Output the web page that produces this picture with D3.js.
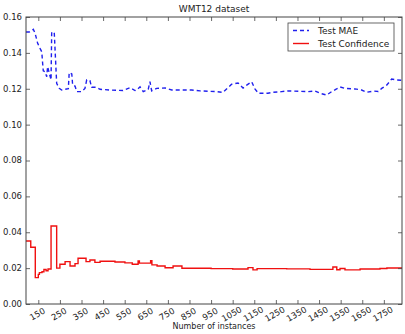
<!DOCTYPE html>
<html>
<head>
<meta charset="utf-8">
<script src="https://cdn.jsdelivr.net/npm/d3@7"></script>
<style>
  body { margin: 0; background: #fff; }
  svg text { font-family: "DejaVu Sans", sans-serif; fill: #222; }
</style>
</head>
<body>
<svg id="svg" width="405" height="334"></svg>
<script>
// --- Data ---
const xTicks = [150, 250, 350, 450, 550, 650, 750, 850, 950, 1050, 1150, 1250, 1350, 1450, 1550, 1650, 1750];
const yTicks = [0, 0.02, 0.04, 0.06, 0.08, 0.10, 0.12, 0.14, 0.16];

const maeX = [93, 108, 127, 135, 147, 158, 166, 170, 173, 181, 189, 193, 201, 209, 212, 224, 235, 247, 258, 274, 289,
    293, 305, 309, 320, 328, 351, 366, 374, 389, 397, 420, 436, 482, 542, 575, 598, 606, 621, 636, 659, 667, 675, 698,
    737, 768, 860, 899, 976, 1005, 1030, 1045, 1075, 1098, 1115, 1138, 1153, 1169, 1213, 1237, 1277, 1306, 1399, 1431,
    1454, 1485, 1508, 1531, 1547, 1570, 1616, 1647, 1670, 1701, 1724, 1740, 1763, 1786, 1809, 1834];
const maeY = [0.1516, 0.1516, 0.1531, 0.151, 0.1453, 0.1425, 0.1406, 0.1342, 0.130, 0.1295, 0.1267, 0.1323, 0.1286,
    0.1249, 0.1518, 0.1509, 0.123, 0.1202, 0.1193, 0.1197, 0.120, 0.129, 0.1282, 0.122, 0.1215, 0.1184, 0.1184, 0.1202,
    0.1249, 0.1245, 0.1208, 0.1208, 0.1197, 0.1193, 0.119, 0.1206, 0.119, 0.1193, 0.1211, 0.1184, 0.1197, 0.1239,
    0.1188, 0.1202, 0.1204, 0.1193, 0.1193, 0.1188, 0.1184, 0.118, 0.1208, 0.1225, 0.1232, 0.1204, 0.122, 0.1239,
    0.1199, 0.1175, 0.1175, 0.118, 0.1184, 0.1188, 0.1184, 0.1188, 0.1175, 0.1165, 0.1184, 0.1199, 0.121, 0.1202,
    0.1199, 0.1193, 0.118, 0.1187, 0.1185, 0.1202, 0.122, 0.1254, 0.1249, 0.1247];

const confX = [93, 115, 136, 150, 155, 167, 176, 186, 195, 209, 235, 250, 274, 297, 320, 334, 371, 389, 412, 436, 505,
    551, 585, 612, 618, 670, 676, 700, 737, 774, 815, 950, 1050, 1121, 1144, 1163, 1300, 1408, 1514, 1532, 1547, 1570,
    1640, 1732, 1764, 1834];
const confY = [0.0351, 0.0316, 0.0147, 0.0165, 0.0175, 0.018, 0.0192, 0.0185, 0.0195, 0.0435, 0.0200, 0.0222, 0.0236,
    0.0212, 0.0225, 0.0255, 0.0236, 0.0245, 0.0232, 0.0238, 0.0234, 0.0229, 0.0222, 0.0240, 0.0228, 0.0242, 0.0218,
    0.0212, 0.0202, 0.0212, 0.0199, 0.0197, 0.0195, 0.0203, 0.0190, 0.0197, 0.0196, 0.0193, 0.0206, 0.0191, 0.0198,
    0.0190, 0.0195, 0.0198, 0.0201, 0.0201];

const seriesNames = ['Test MAE', 'Test Confidence'];

// --- Layout ---
const svg = d3.select('#svg');
const m = { left: 26, top: 17, right: 402, bottom: 304 };

const x = d3.scaleLinear().domain([93, 1834]).range([m.left, m.right]);
const y = d3.scaleLinear().domain([0, 0.16]).range([m.bottom, m.top]);

// --- Lines ---
const mae  = maeX.map((v, i) => [v, maeY[i]]);
const conf = confX.map((v, i) => [v, confY[i]]);

svg.append('clipPath').attr('id', 'clip')
    .append('rect')
    .attr('x', m.left).attr('y', m.top)
    .attr('width', m.right - m.left).attr('height', m.bottom - m.top);

const plot = svg.append('g').attr('clip-path', 'url(#clip)');

plot.append('path')
    .datum(mae)
    .attr('fill', 'none')
    .attr('stroke', '#2020ee')
    .attr('stroke-width', 1.4)
    .attr('stroke-dasharray', '4,3')
    .attr('d', d3.line().x(d => x(d[0])).y(d => y(d[1])));

plot.append('path')
    .datum(conf)
    .attr('fill', 'none')
    .attr('stroke', '#f01010')
    .attr('stroke-width', 1.4)
    .attr('d', d3.line().curve(d3.curveStepAfter).x(d => x(d[0])).y(d => y(d[1])));

// --- Axes (ticks inside, on all four sides) ---
const axisBottom = svg.append('g')
    .attr('transform', `translate(0,${m.bottom})`)
    .call(d3.axisBottom(x).tickValues(xTicks).tickSizeInner(-4).tickSizeOuter(0).tickFormat(''));
const axisTop = svg.append('g')
    .attr('transform', `translate(0,${m.top})`)
    .call(d3.axisTop(x).tickValues(xTicks).tickSizeInner(-4).tickSizeOuter(0).tickFormat(''));
const axisLeft = svg.append('g')
    .attr('transform', `translate(${m.left},0)`)
    .call(d3.axisLeft(y).tickValues(yTicks).tickSizeInner(-4).tickSizeOuter(0).tickFormat(''));
const axisRight = svg.append('g')
    .attr('transform', `translate(${m.right},0)`)
    .call(d3.axisRight(y).tickValues(yTicks).tickSizeInner(-4).tickSizeOuter(0).tickFormat(''));

[axisBottom, axisTop, axisLeft, axisRight].forEach(a => {
    a.select('.domain').remove();
    a.selectAll('line').attr('stroke', '#444').attr('stroke-width', 0.8);
});

svg.append('rect')
    .attr('x', m.left).attr('y', m.top)
    .attr('width', m.right - m.left).attr('height', m.bottom - m.top)
    .attr('fill', 'none')
    .attr('stroke', '#444')
    .attr('stroke-width', 1);

// tick labels
svg.append('g').selectAll('text')
    .data(yTicks).join('text')
    .attr('x', m.left - 4)
    .attr('y', d => y(d))
    .attr('dy', '0.35em')
    .attr('text-anchor', 'end')
    .attr('font-size', '8.5px')
    .text(d => d3.format('.2f')(d));

svg.append('g').selectAll('text')
    .data(xTicks).join('text')
    .attr('transform', d => `translate(${x(d) - 1},${m.bottom + 10}) rotate(-30)`)
    .attr('text-anchor', 'middle')
    .attr('dy', '0.35em')
    .attr('font-size', '8.5px')
    .text(d => d);

svg.append('text')
    .attr('x', (m.left + m.right) / 2)
    .attr('y', 12)
    .attr('text-anchor', 'middle')
    .attr('font-size', '9px')
    .text('WMT12 dataset');

svg.append('text')
    .attr('x', (m.left + m.right) / 2)
    .attr('y', 329)
    .attr('text-anchor', 'middle')
    .attr('font-size', '8px')
    .text('Number of instances');

// --- Legend ---
const legend = svg.append('g').attr('transform', 'translate(288,23)');
legend.append('rect')
    .attr('width', 106).attr('height', 28)
    .attr('fill', '#fff')
    .attr('stroke', '#444')
    .attr('stroke-width', 0.8);

const styles = [
    { stroke: '#2020ee', dash: '4,3' },
    { stroke: '#f01010', dash: null },
];

seriesNames.forEach((name, i) => {
    const row = legend.append('g').attr('transform', `translate(0,${7.5 + i * 13})`);
    row.append('line')
        .attr('x1', 5).attr('x2', 21)
        .attr('stroke', styles[i].stroke)
        .attr('stroke-width', 1.4)
        .attr('stroke-dasharray', styles[i].dash);
    row.append('text')
        .attr('x', 30)
        .attr('dy', '0.35em')
        .attr('font-size', '9px')
        .text(name);
});
</script>
</body>
</html>
